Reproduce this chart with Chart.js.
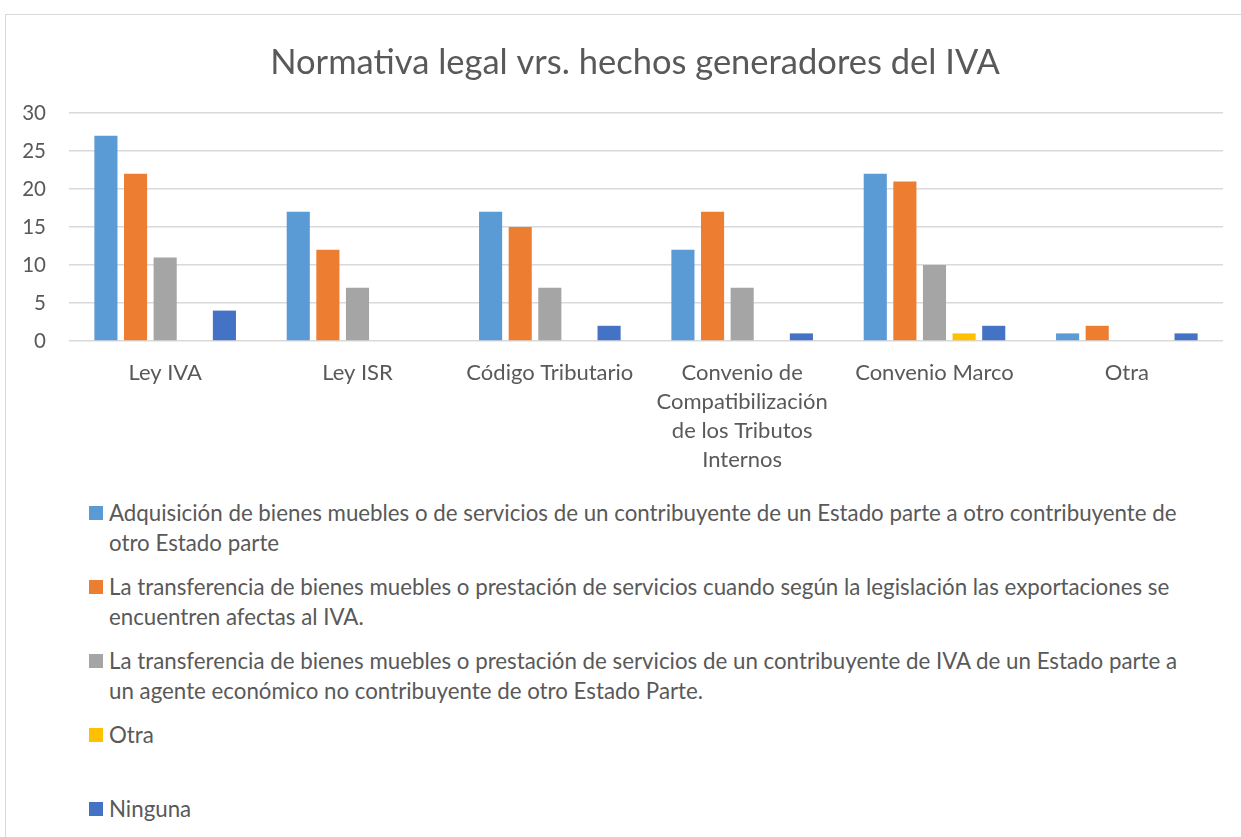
<!DOCTYPE html>
<html lang="es">
<head>
<meta charset="utf-8">
<title>Normativa legal vrs. hechos generadores del IVA</title>
<script src="https://cdn.jsdelivr.net/npm/chart.js@4/dist/chart.umd.min.js"></script>
<style>
    html, body { margin: 0; padding: 0; background: #fff; overflow: hidden; }
    body { width: 1241px; height: 837px; position: relative; font-family: Lato, "Noto Sans", sans-serif; color: #595959; }
    .frame { position: absolute; left: 5px; top: 14px; width: 1300px; height: 900px; border: 1.5px solid #d9d9d9; box-sizing: border-box; }
    #chart-box { position: absolute; left: 0; top: 0; width: 1241px; height: 480px; }
    #legend { position: absolute; left: 89px; top: 498px; }
    .legend-item { position: relative; height: 74px; font-size: 22.3px; line-height: 30px; white-space: nowrap; }
    .legend-item .box { position: absolute; left: 0; top: 8px; width: 14px; height: 14px; }
    .legend-item .txt { position: absolute; left: 20px; top: 0; }
</style>
</head>
<body>
<div class="frame"></div>
<div id="chart-box"><canvas id="ivaChart"></canvas></div>
<div id="legend"></div>

<script>
// Datos
const categorias = [
    'Ley IVA',
    'Ley ISR',
    'Código Tributario',
    ['Convenio de', 'Compatibilización', 'de los Tributos', 'Internos'],
    'Convenio Marco',
    'Otra'
];

const adquisicion = [27, 17, 17, 12, 22, 1];
const exportaciones = [22, 12, 15, 17, 21, 2];
const noContribuyente = [11, 7, 7, 7, 10, 0];
const otra = [0, 0, 0, 0, 1, 0];
const ninguna = [4, 0, 2, 1, 2, 1];

const yTicks = [0, 5, 10, 15, 20, 25, 30];

// Nombres de las series (una linea por renglon de la leyenda)
const serieNombres = [
    ['Adquisición de bienes muebles o de servicios de un contribuyente de un Estado parte a otro contribuyente de', 'otro Estado parte'],
    ['La transferencia de bienes muebles o prestación de servicios cuando según la legislación las exportaciones se', 'encuentren afectas al IVA.'],
    ['La transferencia de bienes muebles o prestación de servicios de un contribuyente de IVA de un Estado parte a', 'un agente económico no contribuyente de otro Estado Parte.'],
    ['Otra'],
    ['Ninguna']
];

const colores = ['#5B9BD5', '#ED7D31', '#A5A5A5', '#FFC000', '#4472C4'];
const TEXT = '#595959';
const GRID = '#d9d9d9';
const FONT = 'Lato, "Noto Sans", sans-serif';

const valores = [adquisicion, exportaciones, noContribuyente, otra, ninguna];

const datasets = valores.map((vals, i) => ({
    label: serieNombres[i].join(' '),
    data: vals,
    backgroundColor: colores[i],
    borderWidth: 0,
    categoryPercentage: 0.77,
    barPercentage: 0.78
}));

// El titulo del original esta un poco corrido a la derecha
const tituloCentrado = {
    id: 'tituloCentrado',
    afterLayout(chart) {
        if (chart.titleBlock) chart.titleBlock.left = 47;
    }
};

const ctx = document.getElementById('ivaChart').getContext('2d');

const chart = new Chart(ctx, {
    type: 'bar',
    data: { labels: categorias, datasets: datasets },
    plugins: [tituloCentrado],
    options: {
        responsive: true,
        maintainAspectRatio: false,
        animation: false,
        layout: { padding: { top: 42.3, right: 18, bottom: 0, left: 0 } },
        plugins: {
            legend: { display: false },
            tooltip: { enabled: false },
            title: {
                display: true,
                text: 'Normativa legal vrs. hechos generadores del IVA',
                color: TEXT,
                font: { family: FONT, size: 34.5, weight: 'normal', lineHeight: 1.2 },
                padding: { top: 0, bottom: 29.3 }
            }
        },
        scales: {
            x: {
                grid: { display: false, drawTicks: false },
                border: { display: false },
                ticks: {
                    color: TEXT,
                    font: { family: FONT, size: 22, lineHeight: 1.32 },
                    maxRotation: 0,
                    autoSkip: false,
                    padding: 17
                },
                afterFit: s => { s.height = 139; }
            },
            y: {
                min: 0,
                max: 30,
                afterBuildTicks: s => { s.ticks = yTicks.map(v => ({ value: v })); },
                grid: { color: GRID, lineWidth: 1.5, drawTicks: false },
                border: { display: false },
                ticks: {
                    color: TEXT,
                    font: { family: FONT, size: 20.5 },
                    padding: 23
                },
                afterFit: s => { s.width = 69; }
            }
        }
    }
});

// Leyenda en HTML para que el texto largo quede en varias lineas
const legend = document.getElementById('legend');
chart.data.datasets.forEach((ds, i) => {
    const item = document.createElement('div');
    item.className = 'legend-item';
    item.innerHTML = `<span class="box" style="background:${ds.backgroundColor}"></span>` +
        `<span class="txt">${serieNombres[i].join('<br>')}</span>`;
    legend.appendChild(item);
});
</script>
</body>
</html>
